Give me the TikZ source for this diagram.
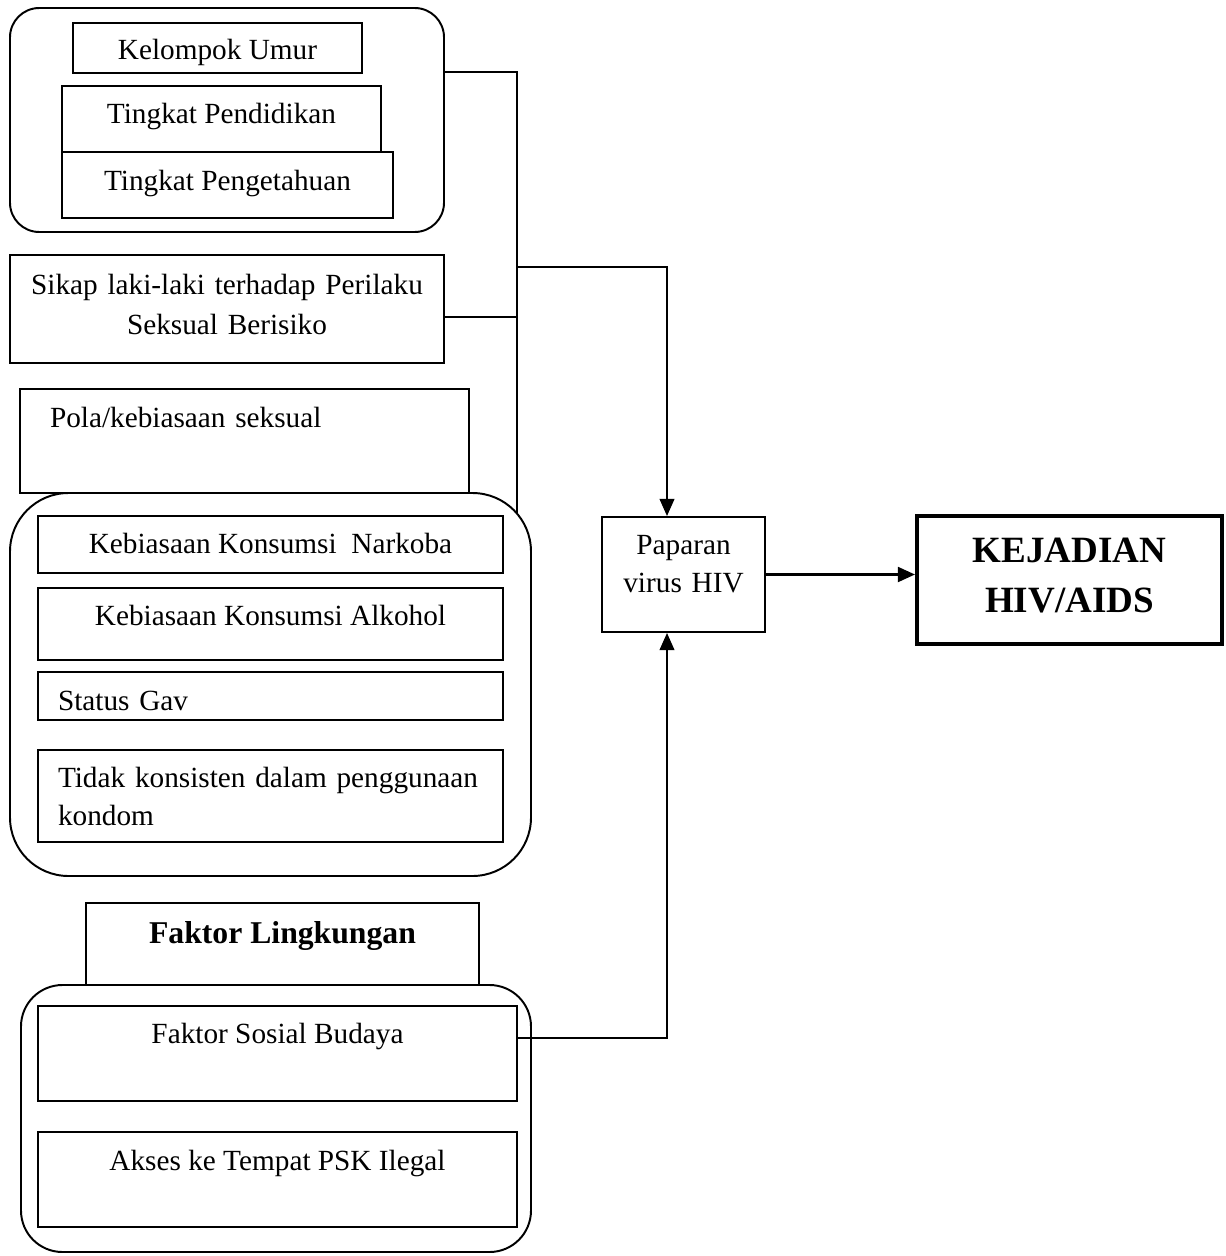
\documentclass[tikz,border=0pt]{standalone}
\usepackage{fontspec}
\setmainfont{Liberation Serif}
\usepackage{tikz}
\usetikzlibrary{arrows.meta}
\newlength{\unitpx}
\setlength{\unitpx}{0.41pt}
\newcommand{\normaltxt}{\fontsize{12}{15.6}\selectfont}

\begin{document}
\begin{tikzpicture}[x=\unitpx,y=-\unitpx,
	box/.style={draw,line width=0.8pt,inner sep=0pt,font=\normaltxt},
	grp/.style={draw,line width=0.8pt,inner sep=0pt,rounded corners=#1},
	sz/.style 2 args={minimum width=#1\unitpx,minimum height=#2\unitpx},
	tb/.style 2 args={text height=#1\unitpx,text depth=#2\unitpx},
	lft/.style={align=left,inner xsep=#1\unitpx},
	arr/.style={-{Triangle[length=7pt,width=6pt]},line width=0.8pt}]
	\useasboundingbox (0,0) rectangle (1225,1256);
	\node[grp=12pt,sz={434}{224}] (grpA) at (227,120) {};
	\node[box,sz={289}{50},tb={37}{13}] (ku) at (217.5,48) {Kelompok Umur};
	\node[box,sz={319}{66},tb={37}{29}] (pend) at (221.5,119) {Tingkat Pendidikan};
	\node[box,sz={331}{66},tb={38}{28}] (peng) at (227.5,185) {Tingkat Pengetahuan};
	\node[box,sz={434}{108},text width=434\unitpx,align=center,tb={39}{69},font=\fontsize{12}{16.4}\selectfont] (sikap) at (227,309) {Sikap laki-laki terhadap Perilaku\\Seksual Berisiko};
	\node[grp=24pt,sz={521}{383}] (grpC) at (270.5,684.5) {};
	\node[box,sz={449}{104},lft=30,text width=389\unitpx,tb={38}{66}] (pola) at (244.5,441) {Pola/kebiasaan seksual};
	\node[box,sz={465}{57},tb={37}{20}] (nark) at (270.5,544.5) {Kebiasaan Konsumsi\ \ Narkoba};
	\node[box,sz={465}{72},tb={37}{35}] (alk) at (270.5,624) {Kebiasaan Konsumsi Alkohol};
	\node[box,sz={465}{48},lft=20,text width=425\unitpx,tb={38}{10}] (gay) at (270.5,696) {Status Gav};
	\node[box,sz={465}{92},lft=20,text width=425\unitpx,tb={37}{55}] (kondom) at (270.5,796) {Tidak konsisten dalam penggunaan\\kondom};
	\node[grp=17pt,sz={510}{267}] (grpD) at (276,1118.5) {};
	\node[box,sz={393}{82},tb={40}{42},font=\fontsize{13}{15}\selectfont\bfseries] (lingk) at (282.5,944) {Faktor Lingkungan};
	\node[box,sz={479}{95},tb={37}{58}] (sosbud) at (277.5,1053.5) {Faktor Sosial Budaya};
	\node[box,sz={479}{95},tb={38}{57}] (psk) at (277.5,1179.5) {Akses ke Tempat PSK Ilegal};
	\node[box,sz={163}{115},text width=163\unitpx,align=center,tb={37}{78}] (pap) at (683.5,574.5) {Paparan\\virus HIV};
	\node[box,line width=1.6pt,sz={305}{128},text width=305\unitpx,align=center,tb={46}{82},font=\fontsize{15.2}{20.5}\selectfont\bfseries] (kej) at (1069.5,580) {KEJADIAN\\HIV/AIDS};
	\coordinate (busT) at (517,72);
	\coordinate (busB) at (517,514);
	\coordinate (sikJ) at (517,317);
	\coordinate (papT) at (667,267);
	\coordinate (papB) at (667,1038);
	\draw[line width=0.8pt] (grpA.east |- busT) -- (busT) -- (busB);
	\draw[line width=0.8pt] (sikap.east |- sikJ) -- (sikJ);
	\draw[arr] (busT |- papT) -- (papT) -- (papT |- pap.north);
	\draw[arr] (sosbud.east |- papB) -- (papB) -- (papB |- pap.south);
	\draw[arr,line width=1.2pt] (pap.east) -- (pap.east -| kej.west);
\end{tikzpicture}
\end{document}
